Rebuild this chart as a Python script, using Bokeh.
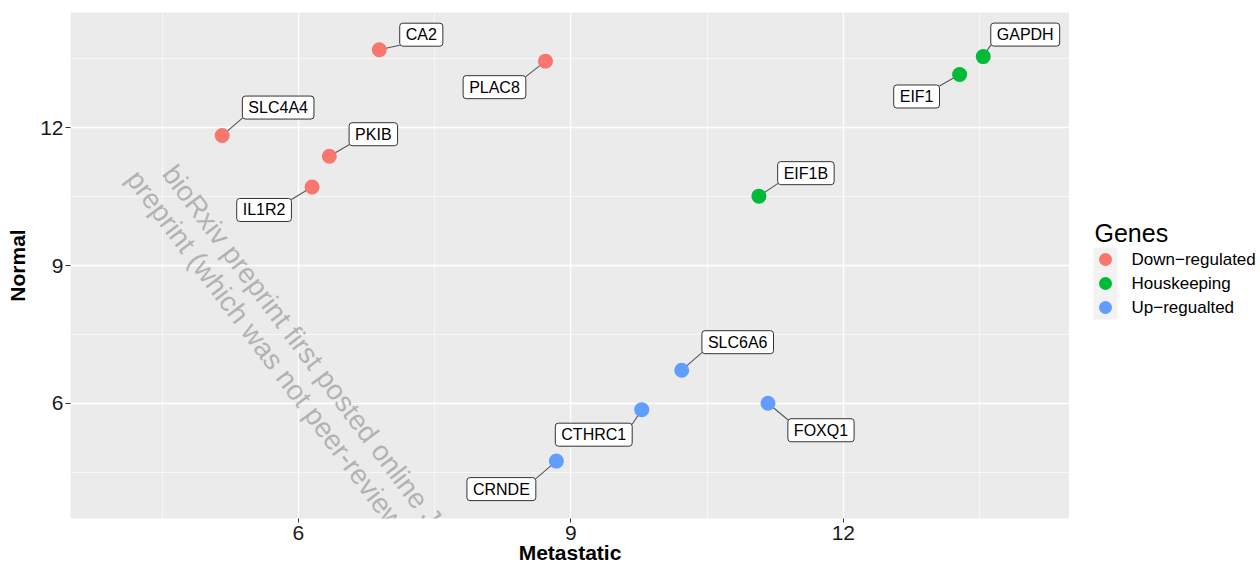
from bokeh.plotting import figure
from bokeh.layouts import row
from bokeh.models import ColumnDataSource, FixedTicker, Label, Range1d
from bokeh.core.properties import value
from bokeh.embed import file_html
from bokeh.resources import INLINE

# ---------------- data ----------------
genes = ["CA2", "PLAC8", "SLC4A4", "PKIB", "IL1R2",
         "GAPDH", "EIF1", "EIF1B",
         "SLC6A6", "FOXQ1", "CTHRC1", "CRNDE"]
metastatic = [6.89, 8.72, 5.16, 6.34, 6.15,
              13.54, 13.28, 11.07,
              10.22, 11.17, 9.78, 8.84]
normal = [13.70, 13.45, 11.83, 11.38, 10.71,
          13.55, 13.16, 10.51,
          6.72, 6.00, 5.86, 4.74]
group = ["Down-regulated", "Down-regulated", "Down-regulated", "Down-regulated", "Down-regulated",
         "Houskeeping", "Houskeeping", "Houskeeping",
         "Up-regualted", "Up-regualted", "Up-regualted", "Up-regualted"]
groups = ["Down-regulated", "Houskeeping", "Up-regualted"]
group_labels = ["Down\u2212regulated", "Houskeeping", "Up\u2212regualted"]
x_ticks = [6, 9, 12]
y_ticks = [6, 9, 12]
x_title = "Metastatic"
y_title = "Normal"
legend_title = "Genes"

# ---------------- style ----------------
colors = ["#F8766D", "#00BA38", "#619CFF"]
# label offsets from point in pixels (right, up) - as placed by ggrepel
label_dx = [42, -51, 56, 44, -48, 42, -43, 47, 56, 53, -48, -55]
label_dy = [15, -26, 28, 22, -23, 22, -22, 23, 28, -27, -25, -28]

FONT = "Liberation Sans"
X0, X1 = 3.49, 14.49
Y0, Y1 = 3.49, 14.51
TOTAL_W, TOTAL_H = 1260, 566
W_MAIN = 1069
BL, BT, BB = 70, 12, 48
FW, FH = W_MAIN - BL, TOTAL_H - BT - BB
ppx = FW / (X1 - X0)
ppy = FH / (Y1 - Y0)

char_w = {c: 0.556 for c in "0123456789"}
char_w.update({"A": .667, "B": .667, "C": .722, "D": .722, "E": .667, "F": .611, "G": .778,
               "H": .722, "I": .278, "K": .667, "L": .556, "M": .833, "N": .722, "O": .778,
               "P": .667, "Q": .778, "R": .722, "S": .667, "T": .611, "X": .667})
LFS = 16
PADX, PADY = 6, 3

lx, ly, sx_end, sy_end = [], [], [], []
for g, x, y, dx, dy in zip(genes, metastatic, normal, label_dx, label_dy):
    lx.append(x + dx / ppx)
    ly.append(y + dy / ppy)
    hw = (sum(char_w.get(c, 0.6) for c in g) * LFS + 2 * PADX) / 2
    hh = 10.5
    best = None
    for a in (-1, 0, 1):
        for b in (-1, 0, 1):
            px_ = dx + a * hw
            py_ = dy + b * hh
            d = px_ * px_ + py_ * py_
            if best is None or d < best[0]:
                best = (d, px_, py_)
    sx_end.append(x + best[1] / ppx)
    sy_end.append(y + best[2] / ppy)

src = ColumnDataSource(dict(x=metastatic, y=normal, gene=genes, group=group,
                            lx=lx, ly=ly, ex=sx_end, ey=sy_end))

p = figure(width=W_MAIN, height=TOTAL_H,
           x_range=Range1d(X0, X1), y_range=Range1d(Y0, Y1),
           min_border_left=BL, min_border_right=0, min_border_top=BT, min_border_bottom=BB,
           output_backend="svg", toolbar_location=None)

p.background_fill_color = "#EBEBEB"
p.border_fill_color = "white"
p.outline_line_color = None

p.xaxis.ticker = FixedTicker(ticks=x_ticks, minor_ticks=[4.5, 7.5, 10.5, 13.5])
p.yaxis.ticker = FixedTicker(ticks=y_ticks, minor_ticks=[4.5, 7.5, 10.5, 13.5])
for ax in (p.xaxis, p.yaxis):
    ax.axis_line_color = None
    ax.major_tick_line_color = "#333333"
    ax.major_tick_in = 0
    ax.minor_tick_line_color = None
    ax.major_label_text_font = FONT
    ax.major_label_text_font_size = "21px"
    ax.major_label_text_color = "#1a1a1a"
    ax.axis_label_text_font = FONT
    ax.axis_label_text_font_size = "21px"
    ax.axis_label_text_font_style = "bold"
    ax.axis_label_text_color = "black"
p.xaxis.major_tick_out = 4
p.yaxis.major_tick_out = 5
p.xaxis.major_label_standoff = 3
p.yaxis.major_label_standoff = 2
p.xaxis.axis_label = x_title
p.xaxis.axis_label_standoff = -2
p.yaxis.axis_label = y_title
p.yaxis.axis_label_standoff = 8

for gr in (p.xgrid, p.ygrid):
    gr.grid_line_color = "white"
    gr.grid_line_width = 1.3
    gr.minor_grid_line_color = "white"
    gr.minor_grid_line_width = 0.6

# watermark (bioRxiv stamp)
def to_data(px_, py_):
    return X0 + (px_ - BL) / ppx, Y1 - (py_ - BT) / ppy

for txt, (ax_, ay_) in [("bioRxiv preprint first posted online Jan", (168, 168)),
                        ("preprint (which was not peer-reviewed", (132, 173))]:
    wx, wy = to_data(ax_, ay_)
    p.add_layout(Label(x=wx, y=wy, text=txt, angle=-53, angle_units="deg",
                       text_align="left", text_baseline="middle",
                       text_font=FONT, text_font_size="28px",
                       text_color="#8c8c8c", text_alpha=0.6))

# segments
p.segment(x0="x", y0="y", x1="ex", y1="ey", source=src,
          line_color="#555555", line_width=1.1)

# points per group
for gname, col in zip(groups, colors):
    idx = [i for i, g in enumerate(group) if g == gname]
    s = ColumnDataSource(dict(x=[metastatic[i] for i in idx], y=[normal[i] for i in idx]))
    p.scatter("x", "y", source=s, size=15, fill_color=col, line_color=None)

# labels
p.text(x="lx", y="ly", text="gene", source=src,
       text_align="center", text_baseline="middle",
       text_font=value(FONT), text_font_size="%dpx" % LFS, text_color="black",
       background_fill_color="white", border_line_color="#333333", border_line_width=1,
       padding=dict(left=PADX, right=PADX, top=PADY, bottom=PADY), border_radius=3)

# ---------------- legend panel ----------------
# frame of this panel is aligned with the main frame; its y range is in page pixels
# counted from the bottom of the page
W_LEG = TOTAL_W - W_MAIN
pl = figure(width=W_LEG, height=TOTAL_H,
            x_range=Range1d(0, W_LEG), y_range=Range1d(BB, TOTAL_H - BT),
            min_border_left=0, min_border_right=0, min_border_top=BT, min_border_bottom=BB,
            x_axis_location=None, y_axis_location=None,
            output_backend="svg", toolbar_location=None)
pl.grid.visible = False
pl.outline_line_color = None
pl.background_fill_color = "white"
pl.border_fill_color = "white"

KEY_X, KEY_W, KEY_STEP = 36, 24, 24
KEY_TOP = TOTAL_H - 259          # centre of first key (from bottom)
key_y = [KEY_TOP - i * KEY_STEP for i in range(len(groups))]
leg = ColumnDataSource(dict(kx=[KEY_X] * len(groups), ky=key_y, lab=group_labels, col=colors,
                            tx=[KEY_X + 26] * len(groups)))
pl.rect(x="kx", y="ky", width=KEY_W, height=KEY_W, source=leg, fill_color="#F2F2F2", line_color=None)
pl.scatter(x="kx", y="ky", size=13, fill_color="col", line_color=None, source=leg)
pl.text(x="tx", y="ky", text="lab", source=leg, text_align="left", text_baseline="middle",
        text_font=value(FONT), text_font_size="17px", text_color="black")
pl.text(x=[KEY_X - 11], y=[KEY_TOP + 27], text=[legend_title], text_align="left",
        text_baseline="alphabetic", text_font=value(FONT), text_font_size="25px", text_color="black")

layout = row(p, pl)
open("out.html", "w").write(file_html(layout, INLINE))
